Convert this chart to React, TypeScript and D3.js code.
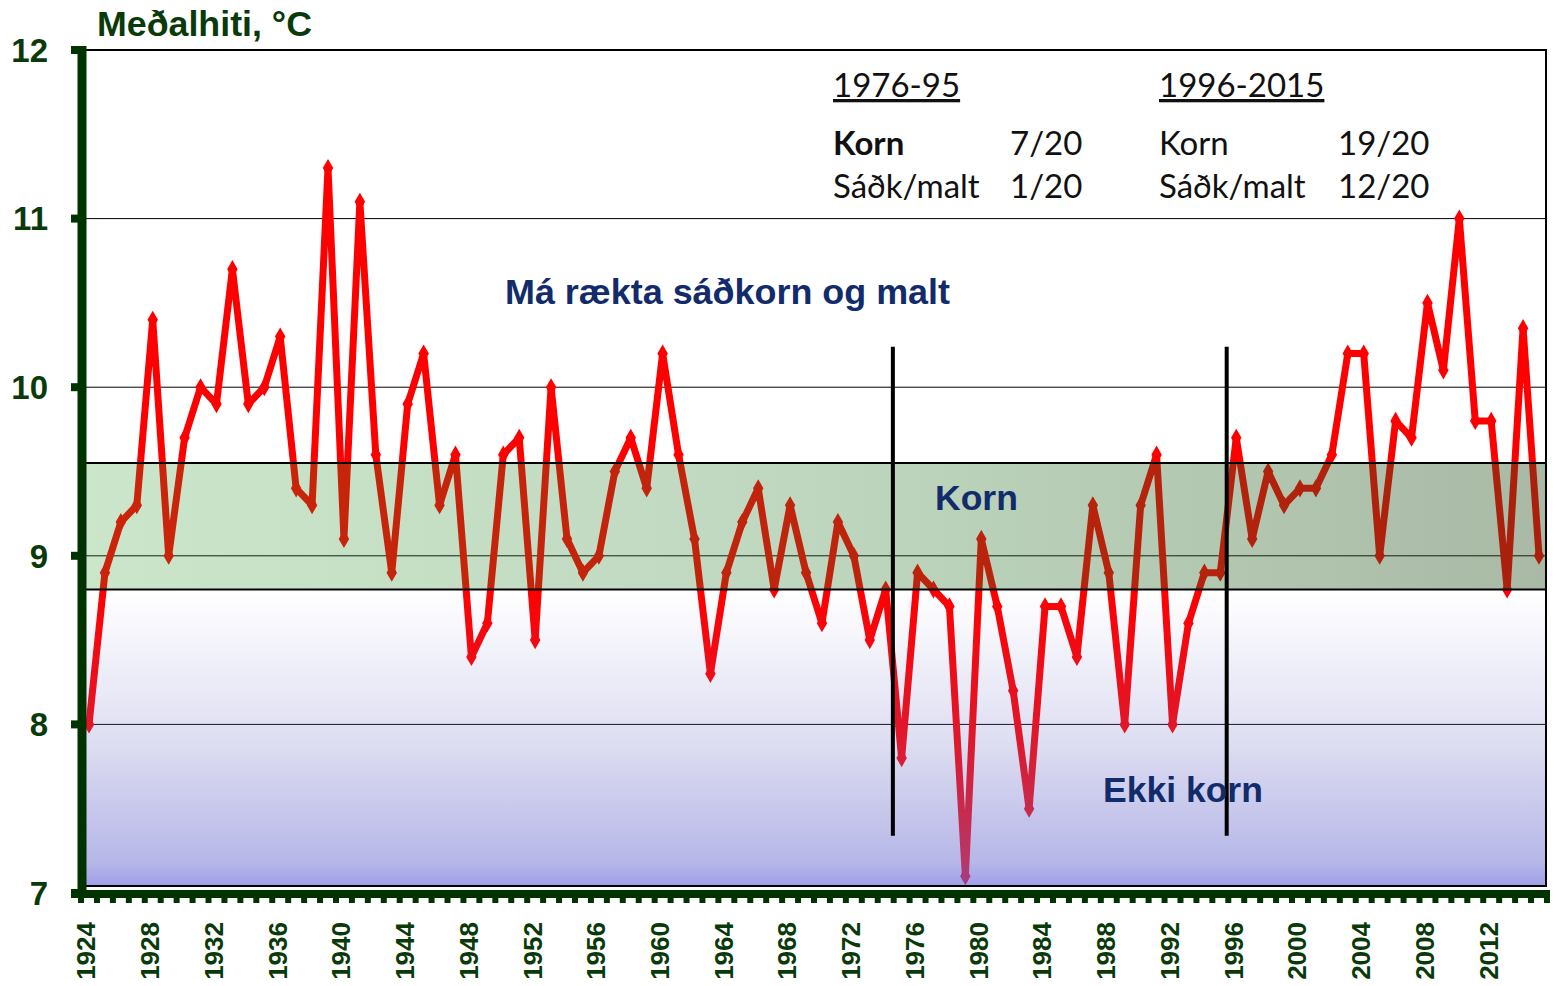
import * as d3 from "d3"

// Meðalhiti (°C) by year, 1924–2015
const firstYear = 1924
const temps: number[] = [
  8.0, 8.9, 9.2, 9.3, 10.4, 9.0, 9.7, 10.0, 9.9, 10.7, // 1924-1933
  9.9, 10.0, 10.3, 9.4, 9.3, 11.3, 9.1, 11.1, 9.6, 8.9, // 1934-1943
  9.9, 10.2, 9.3, 9.6, 8.4, 8.6, 9.6, 9.7, 8.5, 10.0, // 1944-1953
  9.1, 8.9, 9.0, 9.5, 9.7, 9.4, 10.2, 9.6, 9.1, 8.3, // 1954-1963
  8.9, 9.2, 9.4, 8.8, 9.3, 8.9, 8.6, 9.2, 9.0, 8.5, // 1964-1973
  8.8, 7.8, 8.9, 8.8, 8.7, 7.1, 9.1, 8.7, 8.2, 7.5, // 1974-1983
  8.7, 8.7, 8.4, 9.3, 8.9, 8.0, 9.3, 9.6, 8.0, 8.6, // 1984-1993
  8.9, 8.9, 9.7, 9.1, 9.5, 9.3, 9.4, 9.4, 9.6, 10.2, // 1994-2003
  10.2, 9.0, 9.8, 9.7, 10.5, 10.1, 11.0, 9.8, 9.8, 8.8, // 2004-2013
  10.35, 9.0, // 2014-2015
]
const years = temps.map((_, i) => firstYear + i)

const yearLabels = [1924, 1928, 1932, 1936, 1940, 1944, 1948, 1952, 1956, 1960, 1964, 1968, 1972,
  1976, 1980, 1984, 1988, 1992, 1996, 2000, 2004, 2008, 2012]
const yTicks = [7, 8, 9, 10, 11, 12]
const kornBand = [8.8, 9.55]
const dividerYears = [1974.45, 1995.4]
const dividerSpan = [7.34, 10.24]

const periods = [
  { title: "1976-95", korn: "7/20", malt: "1/20" },
  { title: "1996-2015", korn: "19/20", malt: "12/20" },
]

const W = 1556
const H = 986
const plotLeft = 86
const plotRight = 1546
const green = "#0a3a0a"
const navy = "#122b6b"
const arial = "'Liberation Sans', Arial, sans-serif"
const calibri = "Lato, 'Open Sans', sans-serif"

export default function App() {
  const x = d3.scaleLinear().domain([firstYear, years[years.length - 1]]).range([89, 1539])
  const y = d3.scaleLinear().domain([7, 12]).range([893, 50])
  const plotBottom = y(7) - 7

  const line = d3.line<number>().x((_, i) => x(years[i])).y((d) => y(d))
  const diamond = d3.symbol().type(d3.symbolDiamond).size(95)()

  const groupX = [833, 1159]
  const valueX = [1010, 1338]

  return (
    <svg width={W} height={H} style={{ position: "absolute", left: 0, top: 0, background: "#fff" }}>
      <defs>
        <linearGradient id="kornGrad" x1="0" x2="1" y1="0" y2="0">
          <stop offset="0" stopColor="rgb(40,150,40)" stopOpacity={0.24} />
          <stop offset="0.5" stopColor="rgb(40,120,40)" stopOpacity={0.3} />
          <stop offset="1" stopColor="rgb(40,80,30)" stopOpacity={0.4} />
        </linearGradient>
        <linearGradient id="ekkiGrad" x1="0" x2="0" y1="0" y2="1">
          <stop offset="0" stopColor="rgb(110,110,210)" stopOpacity={0} />
          <stop offset="0.5" stopColor="rgb(110,110,200)" stopOpacity={0.22} />
          <stop offset="0.92" stopColor="rgb(110,110,210)" stopOpacity={0.5} />
          <stop offset="1" stopColor="rgb(100,100,220)" stopOpacity={0.62} />
        </linearGradient>
      </defs>

      {/* grid */}
      {[8, 9, 10, 11].map((t) => (
        <line key={t} x1={plotLeft} x2={plotRight} y1={y(t)} y2={y(t)} stroke="#000" strokeWidth={1} />
      ))}

      {/* series */}
      <path d={line(temps) ?? ""} fill="none" stroke="#ff0000" strokeWidth={7} strokeLinejoin="round" />
      {temps.map((v, i) => (
        <path key={i} d={diamond ?? ""} transform={`translate(${x(years[i])},${y(v)})`} fill="#ff0000" />
      ))}

      {/* bands over the line */}
      <rect x={plotLeft} width={plotRight - plotLeft} y={y(kornBand[1])} height={y(kornBand[0]) - y(kornBand[1])}
        fill="url(#kornGrad)" />
      <rect x={plotLeft} width={plotRight - plotLeft} y={y(kornBand[0])} height={plotBottom - y(kornBand[0])}
        fill="url(#ekkiGrad)" />
      {kornBand.map((b) => (
        <line key={b} x1={plotLeft} x2={plotRight} y1={y(b)} y2={y(b)} stroke="#000" strokeWidth={2} />
      ))}

      {/* frame */}
      <path d={`M${plotLeft},${y(12)}H${plotRight}V${plotBottom}H${plotLeft}`} fill="none" stroke="#000" strokeWidth={2} />

      {/* period dividers */}
      {dividerYears.map((yr) => (
        <line key={yr} x1={x(yr)} x2={x(yr)} y1={y(dividerSpan[1])} y2={y(dividerSpan[0])} stroke="#000" strokeWidth={4} />
      ))}

      {/* zone labels */}
      <g fill={navy} fontFamily={arial} fontWeight="bold" fontSize={35.5}>
        <text x={505} y={304} textLength={445} lengthAdjust="spacingAndGlyphs">Má rækta sáðkorn og malt</text>
        <text x={935} y={510}>Korn</text>
        <text x={1103} y={802}>Ekki korn</text>
      </g>

      {/* period summary */}
      <g fontFamily={calibri} fontSize={33} fill="#111">
        {periods.map((p, i) => (
          <g key={p.title}>
            <text x={groupX[i]} y={97} textDecoration="underline">{p.title}</text>
            <text x={groupX[i]} y={155} fontWeight={i === 0 ? 700 : 400}>Korn</text>
            <text x={valueX[i]} y={155}>{p.korn}</text>
            <text x={groupX[i]} y={198}>Sáðk/malt</text>
            <text x={valueX[i]} y={198}>{p.malt}</text>
          </g>
        ))}
      </g>

      {/* y axis */}
      <line x1={82} x2={82} y1={y(12) - 4} y2={y(7) + 5} stroke="#003300" strokeWidth={9} />
      {yTicks.map((t) => (
        <g key={t}>
          <line x1={71} x2={82} y1={y(t)} y2={y(t)} stroke="#003300" strokeWidth={8} />
          <text x={48} y={y(t)} dy="0.36em" textAnchor="end" fontFamily={arial} fontWeight="bold"
            fontSize={33} fill={green}>{t}</text>
        </g>
      ))}
      <text x={97} y={36} fontFamily={arial} fontWeight="bold" fontSize={35} textLength={215}
        lengthAdjust="spacingAndGlyphs" fill={green}>Meðalhiti, °C</text>

      {/* x axis */}
      <line x1={71} x2={1550} y1={y(7) + 1} y2={y(7) + 1} stroke="#003300" strokeWidth={8} />
      {years.concat([years[years.length - 1] + 1]).map((yr) => (
        <line key={yr} x1={x(yr - 0.5)} x2={x(yr - 0.5)} y1={y(7) + 4} y2={y(7) + 10} stroke="#003300" strokeWidth={6} />
      ))}
      {yearLabels.map((yr) => (
        <text key={yr} transform={`translate(${x(yr) - 3},922) rotate(-90)`} dy="0.36em" textAnchor="end"
          fontFamily={arial} fontWeight="bold" fontSize={26} fill={green}>{yr}</text>
      ))}
    </svg>
  )
}
